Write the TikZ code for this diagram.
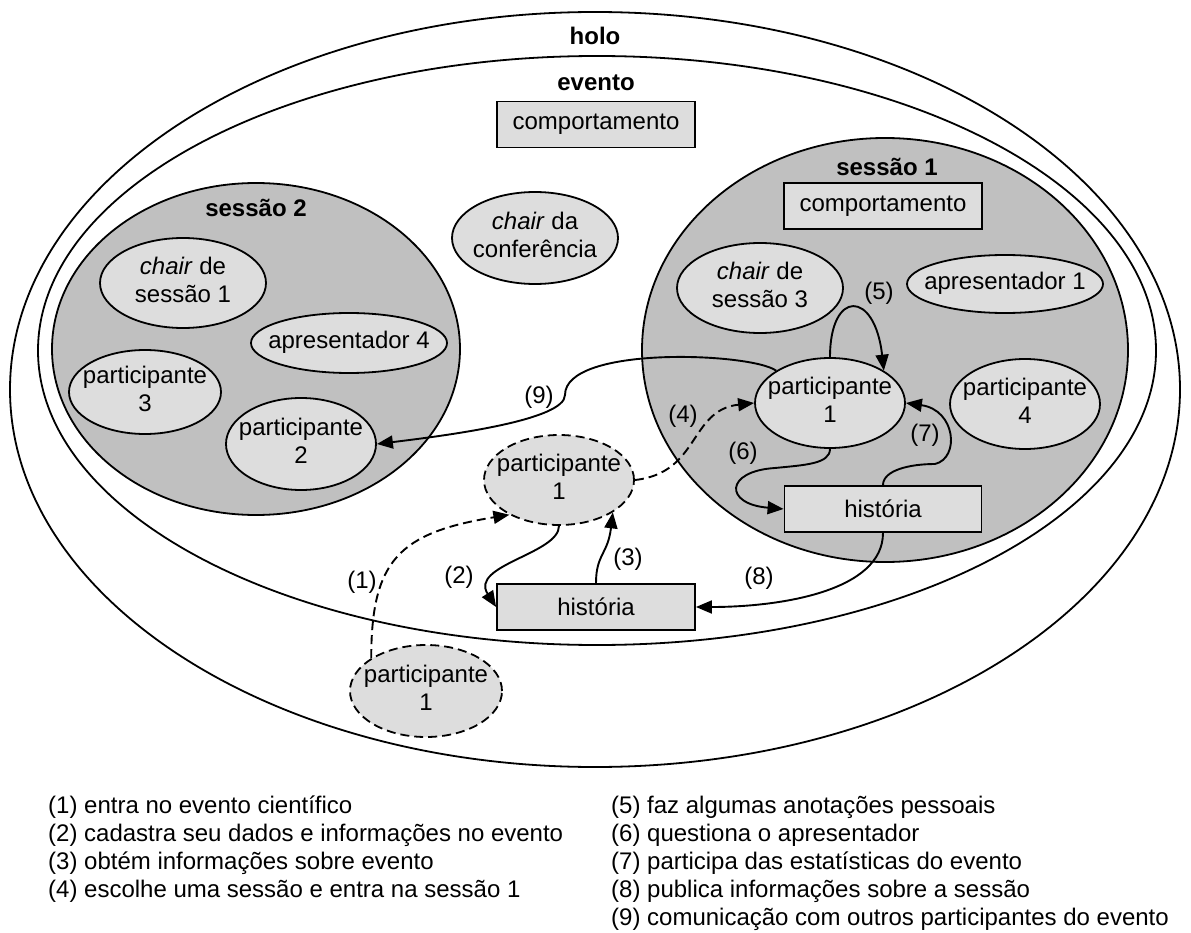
\documentclass[tikz,border=0pt]{standalone}
\usepackage{fontspec}
\setmainfont{Liberation Sans}
\usetikzlibrary{shapes.geometric,arrows.meta}
\definecolor{sessfill}{HTML}{C0C0C0}
\definecolor{itemfill}{HTML}{DDDDDD}
% centred multi-line text that does not widen the oval around it
\newcommand\ovaltext[1]{\makebox[0pt]{\begin{tabular}{@{}c@{}}#1\end{tabular}}}
\begin{document}
\begin{tikzpicture}[x=1pt,y=-1pt,
  every node/.style={font=\fontsize{24}{28}\selectfont},
  ring/.style={draw, ellipse, line width=1.8pt, inner sep=0pt},
  session/.style={ring, fill=sessfill},
  actor/.style={ring, fill=itemfill, minimum width=150pt, minimum height=90pt},
  ghost/.style={actor, dash pattern=on 9pt off 5pt},
  panel/.style={draw, rectangle, line width=1.8pt, fill=itemfill, inner sep=0pt,
    minimum width=198pt, minimum height=46pt},
  heading/.style={inner sep=0pt, font=\fontsize{24}{28}\selectfont\bfseries},
  tag/.style={inner sep=0pt},
  legend/.style={inner sep=0pt, anchor=base west},
  flow/.style={line width=1.9pt, -{Triangle[length=16pt,width=13pt]}},
  dflow/.style={flow, dash pattern=on 9pt off 5pt},
]
\useasboundingbox (0,0) rectangle (1191,933);

% nested containers
\node[ring, fill=white, minimum width=1170pt, minimum height=755pt] (holo) at (595,389.5) {};
\node[ring, fill=white, minimum width=1118pt, minimum height=589pt] (evento) at (597,350.5) {};
\node[heading] (holot) at (595,36) {holo};
\node[heading] (eventot) at (596,83) {evento};
\node[panel] (compE) at (596,124.5) {comportamento};
\node[actor, minimum width=166pt, minimum height=92pt] (chairC) at (535,238) {\ovaltext{\textit{chair} da\\conferência}};

% session 2
\node[session, minimum width=408pt, minimum height=332pt] (s2) at (256,349) {};
\node[heading] (s2t) at (256,208) {sessão 2};
\node[actor, minimum width=166pt, minimum height=90pt] (chair1) at (183,283) {\ovaltext{\textit{chair} de\\sessão 1}};
\node[actor, minimum width=196pt, minimum height=60pt] (apr4) at (349,343) {\ovaltext{apresentador 4}};
\node[actor, minimum width=152pt, minimum height=84pt] (p3) at (145,392) {\ovaltext{participante\\3}};
\node[actor, minimum width=150pt, minimum height=92pt] (p2) at (301,444) {\ovaltext{participante\\2}};

% session 1
\node[session, minimum width=486pt, minimum height=424pt] (s1) at (885,350) {};
\node[heading] (s1t) at (887,167) {sessão 1};
\node[panel] (compS) at (883,206) {comportamento};
\node[actor, minimum width=166pt, minimum height=90pt] (chair3) at (760,288) {\ovaltext{\textit{chair} de\\sessão 3}};
\node[actor, minimum width=196pt, minimum height=58pt] (apr1) at (1005,284) {\ovaltext{apresentador 1}};
\node[actor] (p1) at (830,403) {\ovaltext{participante\\1}};
\node[actor] (p4) at (1025,404) {\ovaltext{participante\\4}};
\node[panel, minimum width=197pt] (hs) at (883,509) {história};

% participant entering the event
\node[ghost] (pm) at (559,480) {\ovaltext{participante\\1}};
\node[panel] (hm) at (596,607) {história};
\node[ghost, minimum width=152pt, minimum height=92pt] (pb) at (426,691) {\ovaltext{participante\\1}};

% bend points of the S-shaped connectors
\coordinate (k6) at (775,468);
\coordinate (k7) at (935,464);
\coordinate (k9) at (565,395);

% connectors
\draw[dflow] (pb.149) .. controls +(0,-98) and +(-110,18) .. (pm.215);
\draw[flow] (pm.south) .. controls +(0,28) and +(-27,-42) .. (hm.west);
\draw[flow] (hm.north) .. controls +(0,-29) and +(-5,42) .. (pm.-31);
\draw[dflow] (pm.east) .. controls +(65,-7) and +(-65,7) .. (p1.west);
\draw[flow] (p1.north) .. controls +(0,-68) and +(-9,-81) .. (p1.31);
\draw[flow] (p1.south) .. controls +(0,15) and +(30,-3) .. (k6)
  .. controls +(-50,3) and +(-60,-5) .. (hs.west);
\draw[flow] (hs.north) .. controls +(0,-15) and +(-25,0) .. (k7)
  .. controls +(25,-6) and +(50,7) .. (p1.east);
\draw[flow] (hs.south) .. controls +(0,58) and +(85,0) .. (hm.east);
\draw[flow] (p1.149) .. controls +(-25,-18) and +(0,-50) .. (k9)
  .. controls +(0,25) and +(74,-9) .. (p2.east);

% connector numbers
\node[tag] (n1) at (362,582) {(1)};
\node[tag] (n2) at (459,577) {(2)};
\node[tag] (n3) at (628,559) {(3)};
\node[tag] (n4) at (683,416) {(4)};
\node[tag] (n5) at (879,293) {(5)};
\node[tag] (n6) at (743,453) {(6)};
\node[tag] (n7) at (925,435) {(7)};
\node[tag] (n8) at (759,578) {(8)};
\node[tag] (n9) at (539,397) {(9)};

% legend
\node[legend] (l1) at (48,813) {(1) entra no evento científico};
\node[legend] (l2) at (48,841) {(2) cadastra seu dados e informações no evento};
\node[legend] (l3) at (48,869) {(3) obtém informações sobre evento};
\node[legend] (l4) at (48,897) {(4) escolhe uma sessão e entra na sessão 1};
\node[legend] (l5) at (611,813) {(5) faz algumas anotações pessoais};
\node[legend] (l6) at (611,841) {(6) questiona o apresentador};
\node[legend] (l7) at (611,869) {(7) participa das estatísticas do evento};
\node[legend] (l8) at (611,897) {(8) publica informações sobre a sessão};
\node[legend] (l9) at (611,925) {(9) comunicação com outros participantes do evento};
\end{tikzpicture}
\end{document}
